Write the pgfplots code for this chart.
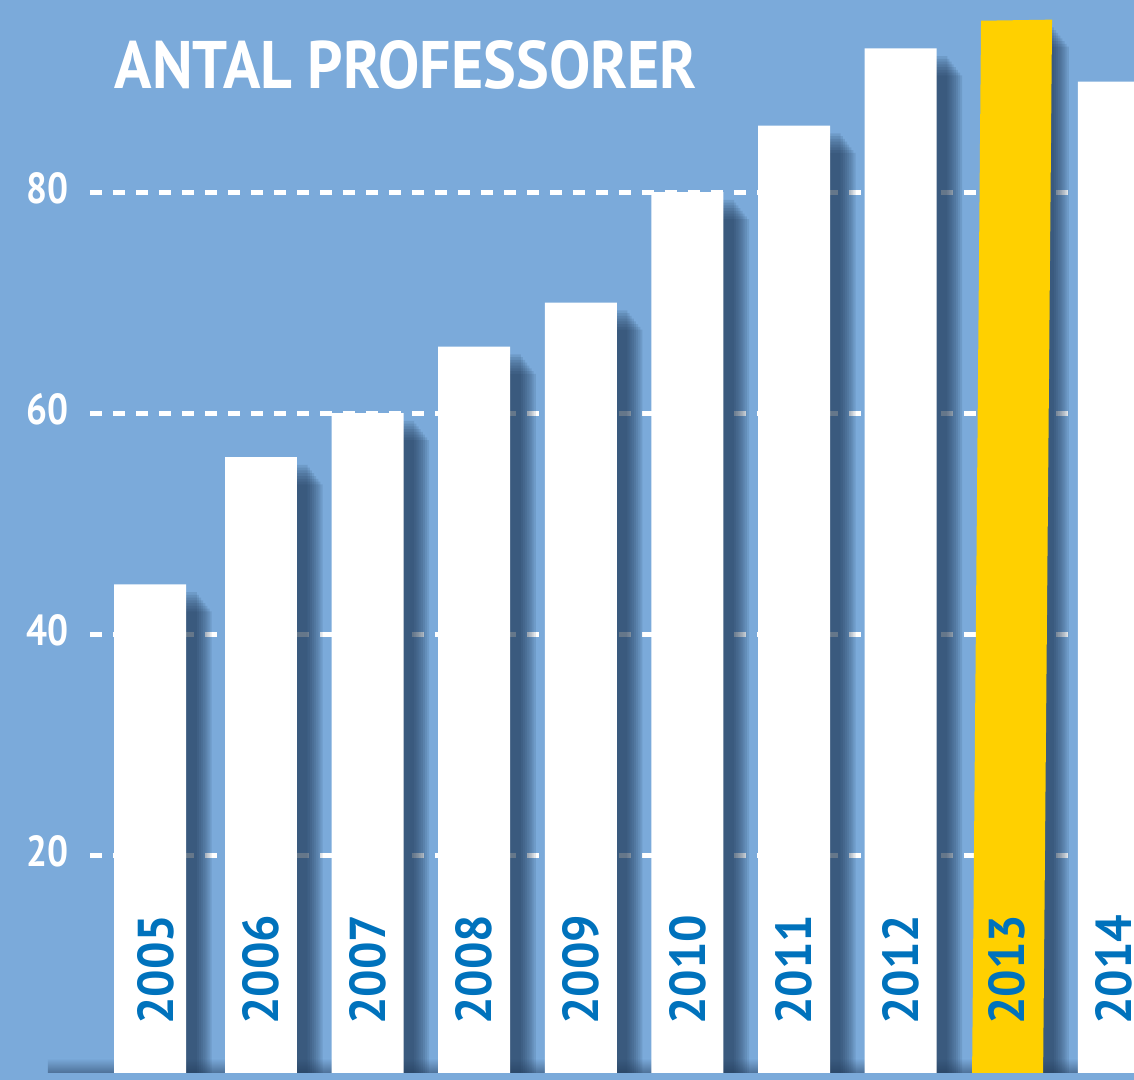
\documentclass[border=0pt]{standalone}
\usepackage{pgfplots}
\usepackage{pgfplotstable}
\pgfplotsset{compat=1.18}
\usepackage{fontspec}
\setmainfont{PT Sans}
\definecolor{bgblue}{RGB}{123,170,218}
\definecolor{shadowc}{RGB}{30,55,85}
\definecolor{yearblue}{RGB}{0,114,188}
\definecolor{gold}{RGB}{255,208,0}
\pgfplotstableread{
x y
-0.04 44.5
1 56
2 60
3 66
4 70
5 80
6 86
7 93
8 95.6
9 90
}\datatable
\newcommand\yr[1]{\resizebox{55pt}{18pt}{\bfseries #1}}
\newcommand\tl[1]{\resizebox{21pt}{15.5pt}{\bfseries #1}}
\pgfplotsset{shadowbar/.style={ybar, bar width=0.675, fill=shadowc, fill opacity=0.13, draw=none}}
\begin{document}
\begin{tikzpicture}
\fill[bgblue] (0,0) rectangle (567pt,540pt);
\begin{axis}[
  at={(0,0)}, anchor=south west,
  scale only axis, width=567pt, height=540pt,
  xmin=-1.448, xmax=9.189, ymin=-0.36, ymax=97.38,
  axis lines=none, xtick=\empty, ytick=\empty,
  clip=true,
]
% dashed grid lines
\foreach \g in {20,40,60,80}{
  \edef\tmp{\noexpand\draw[white, line width=2.5pt, dash pattern=on 6pt off 5.5pt] (axis cs:-0.604,\g) -- (axis cs:9.189,\g);}
  \tmp
}
% bottom shadow band
\shade[top color=bgblue, bottom color=shadowc!80!bgblue, opacity=0.75] (axis cs:-1.0,0) rectangle (axis cs:9.189,1.6);
% bar shadows (layered to imitate a blur)
\addplot[shadowbar, bar shift=0.10] table[x=x, y expr=\thisrow{y}-0.70] {\datatable};
\addplot[shadowbar, bar shift=0.12] table[x=x, y expr=\thisrow{y}-0.95] {\datatable};
\addplot[shadowbar, bar shift=0.14] table[x=x, y expr=\thisrow{y}-1.20] {\datatable};
\addplot[shadowbar, bar shift=0.16] table[x=x, y expr=\thisrow{y}-1.45] {\datatable};
\addplot[shadowbar, bar shift=0.18] table[x=x, y expr=\thisrow{y}-1.70] {\datatable};
\addplot[shadowbar, bar shift=0.20] table[x=x, y expr=\thisrow{y}-1.95] {\datatable};
\addplot[shadowbar, bar shift=0.22] table[x=x, y expr=\thisrow{y}-2.20] {\datatable};
\addplot[shadowbar, bar shift=0.24] table[x=x, y expr=\thisrow{y}-2.45] {\datatable};
% white bars
\addplot[ybar, bar width=0.675, bar shift=0, fill=white, draw=none] coordinates {
 (-0.04,44.5) (1,56) (2,60) (3,66) (4,70) (5,80) (6,86) (7,93) (9,90)};
% 2013 highlighted (slightly tilted) bar
\addplot[fill=gold, draw=none] coordinates {(7.670,0) (8.336,0) (8.420,95.6) (7.754,95.5) (7.670,0)};
% light strip along the very bottom
\fill[bgblue] (axis cs:-1.448,-0.36) rectangle (axis cs:9.189,0.27);
% tick labels
\node[white] at (axis cs:-1.007,80.3) {\tl{80}};
\node[white] at (axis cs:-1.007,60.3) {\tl{60}};
\node[white] at (axis cs:-1.007,40.3) {\tl{40}};
\node[white] at (axis cs:-1.007,20.3) {\tl{20}};
% year labels
\node[rotate=90, text=yearblue] at (axis cs:0.01,9.6) {\yr{2005}};
\node[rotate=90, text=yearblue] at (axis cs:1,9.6) {\yr{2006}};
\node[rotate=90, text=yearblue] at (axis cs:2,9.6) {\yr{2007}};
\node[rotate=90, text=yearblue] at (axis cs:3,9.6) {\yr{2008}};
\node[rotate=90, text=yearblue] at (axis cs:4,9.6) {\yr{2009}};
\node[rotate=90, text=yearblue] at (axis cs:5,9.6) {\yr{2010}};
\node[rotate=90, text=yearblue] at (axis cs:6,9.6) {\yr{2011}};
\node[rotate=90, text=yearblue] at (axis cs:7,9.6) {\yr{2012}};
\node[rotate=90, text=yearblue] at (axis cs:8,9.6) {\yr{2013}};
\node[rotate=90, text=yearblue] at (axis cs:9,9.6) {\yr{2014}};
\end{axis}
\node[white] at (203pt,507.5pt) {\resizebox{291pt}{24pt}{\bfseries ANTAL PROFESSORER}};
\pgfresetboundingbox
\useasboundingbox (0,0) rectangle (567pt,540pt);
\end{tikzpicture}
\end{document}
